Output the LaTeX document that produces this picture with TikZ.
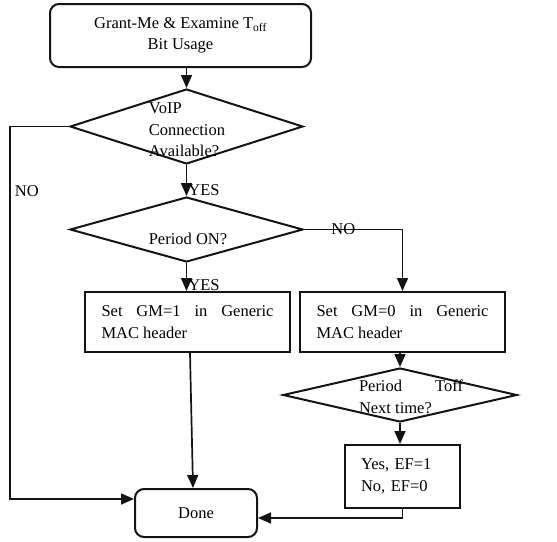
\documentclass[tikz,border=0pt]{standalone}
\usepackage{fontspec}
\setmainfont{Liberation Serif}
\usetikzlibrary{arrows.meta,positioning,shapes.geometric,calc}
\definecolor{ink}{HTML}{141414}
\newcommand{\fs}{\fontsize{16.5}{21.5}\selectfont}
\tikzset{
  box/.style={rectangle, draw=ink, line width=2pt, inner sep=0pt, font=\fs},
  termbox/.style={box, rounded corners=9pt, align=center},
  stepbox/.style={box, align=justify, minimum width=205pt, minimum height=60pt, text width=172pt},
  decide/.style={diamond, draw=ink, line width=2pt, inner sep=0pt},
  dtext/.style={font=\fs, inner sep=0pt},
  lbl/.style={font=\fs, inner sep=0pt},
  flow/.style={-{Triangle[length=13pt,width=11pt]}, draw=ink, line width=1.7pt}
}
\begin{document}
\begin{tikzpicture}[x=1pt, y=-1pt]
  \useasboundingbox (0,0) rectangle (557,541);
  % start and decisions
  \node[termbox, minimum width=261pt, minimum height=63pt] (start) at (180.5,35.5)
    {Grant-Me \& Examine T\textsubscript{off}\\Bit Usage};
  \node[decide, minimum width=233pt, minimum height=75pt] (voip) at (186.5,126.5) {};
  \node[dtext, align=left] (voipt) at (187,130) {VoIP\\Connection\\Available?};
  \node[decide, minimum width=233pt, minimum height=65pt] (period) at (186.5,229.5) {};
  \node[dtext] (periodt) at (188,239) {Period ON?};
  % header boxes
  \node[stepbox] (gmone) at (187.5,322) {Set GM=1 in Generic\linebreak MAC header};
  \node[stepbox] (gmzero) at (402.5,322) {Set GM=0 in Generic\linebreak MAC header};
  \node[decide, minimum width=234pt, minimum height=54pt] (toff) at (400,395) {};
  \node[dtext, text width=104pt, align=justify] (tofft) at (411,397) {Period Toff\linebreak Next time?};
  \node[box, minimum width=115pt, minimum height=63pt, text width=83pt, align=left] (ef) at (402.5,476.5)
    {Yes, EF=1\\No, EF=0};
  \node[termbox, minimum width=122pt, minimum height=48pt] (done) at (196,513) {Done};
  \coordinate (lft) at (10,0);
  % connectors
  \draw[flow] (voip.north |- start.south) -- (voip.north);
  \draw[flow] (voip.south) -- node[lbl, pos=0.8, right=1pt] {YES} (period.north);
  \draw[flow] (period.south) -- node[lbl, pos=0.8, right=1pt] {YES} (period.south |- gmone.north);
  \draw[flow] (period.east) -| node[lbl, pos=0.2] {NO} (gmzero.north);
  \draw[flow] (voip.west) -- (voip.west -| lft) |- node[lbl, pos=0.087, right=4pt] {NO} ([yshift=14pt]done.west);
  \draw[flow] ([xshift=2.5pt]gmone.south) -- ([xshift=-3pt]done.north);
  \draw[flow] (toff.north |- gmzero.south) -- (toff.north);
  \draw[flow] (toff.south) -- (toff.south |- ef.north);
  \draw[flow] (ef.south) |- ([yshift=-5pt]done.east);
\end{tikzpicture}
\end{document}
